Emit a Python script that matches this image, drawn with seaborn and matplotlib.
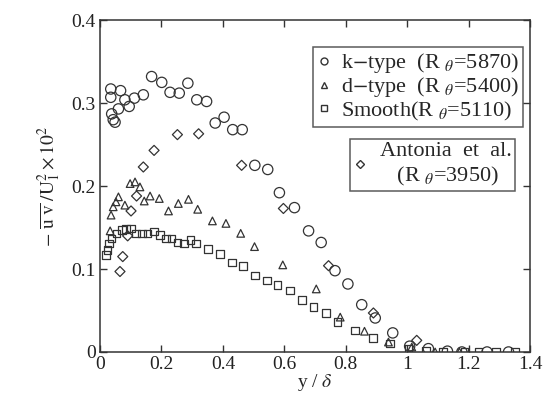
import pandas as pd
import matplotlib.pyplot as plt
import seaborn as sns
import numpy as np
from matplotlib.lines import Line2D

# data
k_x = [0.035, 0.035, 0.067, 0.081, 0.038, 0.043, 0.049, 0.060, 0.095, 0.112, 0.141, 0.168,
       0.201, 0.228, 0.258, 0.286, 0.315, 0.347, 0.375, 0.404, 0.432, 0.463, 0.504, 0.546,
       0.584, 0.633, 0.679, 0.720, 0.765, 0.807, 0.852, 0.896, 0.953, 1.008, 1.069, 1.131,
       1.178, 1.260, 1.330]
k_y = [0.317, 0.307, 0.315, 0.304, 0.287, 0.280, 0.277, 0.293, 0.296, 0.306, 0.310, 0.332,
       0.325, 0.313, 0.312, 0.324, 0.304, 0.302, 0.276, 0.283, 0.268, 0.268, 0.225, 0.220,
       0.192, 0.174, 0.146, 0.132, 0.098, 0.082, 0.057, 0.041, 0.023, 0.007, 0.004, 0.001,
       0.000, 0.000, 0.000]

d_x = [0.033, 0.036, 0.043, 0.052, 0.060, 0.081, 0.098, 0.114, 0.130, 0.144, 0.163, 0.193,
       0.223, 0.255, 0.288, 0.318, 0.366, 0.410, 0.458, 0.503, 0.595, 0.704, 0.782, 0.861,
       0.939, 1.015, 1.091, 1.170]
d_y = [0.146, 0.165, 0.175, 0.181, 0.187, 0.177, 0.203, 0.205, 0.199, 0.182, 0.188, 0.185,
       0.170, 0.179, 0.184, 0.172, 0.158, 0.155, 0.143, 0.127, 0.105, 0.076, 0.042, 0.025,
       0.012, 0.006, 0.000, 0.000]

s_x = [0.020, 0.024, 0.030, 0.038, 0.054, 0.071, 0.084, 0.100, 0.117, 0.136, 0.155, 0.176,
       0.195, 0.215, 0.233, 0.252, 0.274, 0.295, 0.313, 0.351, 0.391, 0.429, 0.465, 0.505,
       0.543, 0.578, 0.619, 0.657, 0.695, 0.735, 0.773, 0.831, 0.888, 0.945, 1.004, 1.061,
       1.116, 1.186, 1.232, 1.290, 1.350]
s_y = [0.117, 0.123, 0.131, 0.137, 0.143, 0.147, 0.148, 0.149, 0.143, 0.143, 0.143, 0.145,
       0.141, 0.137, 0.137, 0.132, 0.131, 0.135, 0.131, 0.124, 0.118, 0.108, 0.104, 0.092,
       0.086, 0.081, 0.074, 0.063, 0.054, 0.047, 0.036, 0.026, 0.017, 0.010, 0.004, 0.001,
       0.000, 0.000, 0.000, 0.000, 0.000]

a_x = [0.065, 0.074, 0.090, 0.101, 0.119, 0.141, 0.176, 0.252, 0.321, 0.461, 0.597, 0.744,
       0.890, 1.031]
a_y = [0.097, 0.115, 0.140, 0.170, 0.188, 0.223, 0.243, 0.262, 0.263, 0.225, 0.173, 0.104,
       0.047, 0.014]

sns.set_theme(style="ticks")
plt.rcParams['font.family'] = ['Liberation Serif', 'DejaVu Serif']
plt.rcParams['mathtext.fontset'] = 'stix'
plt.rcParams['font.size'] = 13

fig = plt.figure(figsize=(5.51, 4.03), dpi=100)
ax = fig.add_axes([0.1815, 0.1266, 0.7805, 0.8234])

series = [
    (k_x, k_y, 'o', 55),
    (d_x, d_y, '^', 30),
    (s_x, s_y, 's', 30),
    (a_x, a_y, 'D', 26),
]
for xs, ys, m, sz in series:
    df = pd.DataFrame({'x': xs, 'y': ys})
    sns.scatterplot(data=df, x='x', y='y', marker=m, s=sz, facecolors='none',
                    edgecolor='#333333', linewidth=0.9, ax=ax, zorder=3)

ax.set_xlim(0, 1.4)
ax.set_ylim(0, 0.4)
ax.set_xticks([0, 0.2, 0.4, 0.6, 0.8, 1.0, 1.2, 1.4])
ax.set_xticklabels(['0', '0.2', '0.4', '0.6', '0.8', '1', '1.2', '1.4'])
ax.set_yticks([0, 0.1, 0.2, 0.3, 0.4])
ax.set_yticklabels(['0', '0.1', '0.2', '0.3', '0.4'])
ax.tick_params(direction='in', top=True, right=True, length=5, width=1,
               labelsize=14, color='#333333', labelcolor='#222222', pad=3)
for sp in ax.spines.values():
    sp.set_linewidth(1.1)
    sp.set_color('#333333')

ax.set_xlabel(r'y / $\delta$', fontsize=14, labelpad=-1)
ax.set_ylabel(r'$-\ \overline{\mathrm{u\ v}}\ /\mathrm{U}_1^2\times10^2$', fontsize=14, labelpad=6)

h1 = [Line2D([], [], ls='', marker='o', ms=5, mfc='none', mec='#333333'),
      Line2D([], [], ls='', marker='^', ms=4.5, mfc='none', mec='#333333'),
      Line2D([], [], ls='', marker='s', ms=4, mfc='none', mec='#333333')]
l1 = [r'k$-$type  (R $_{\theta}$=5870)',
      r'd$-$type  (R $_{\theta}$=5400)',
      r'Smooth(R $_{\theta}$=5110)']
leg1 = ax.legend(h1, l1, loc='upper right', bbox_to_anchor=(0.984, 0.919), fontsize=16,
                 frameon=True, fancybox=False, edgecolor='#333333', handlelength=0.6,
                 handletextpad=0.45, borderpad=0.2, labelspacing=0.0, borderaxespad=0)
leg1.get_frame().set_linewidth(1.1)
ax.add_artist(leg1)

h2 = [Line2D([], [], ls='', marker='D', ms=4, mfc='none', mec='#333333')]
leg2 = ax.legend(h2, [r'Antonia  et  al.' + '\n' + r'   (R $_{\theta}$=3950)'], loc='upper right',
                 bbox_to_anchor=(0.965, 0.642), fontsize=16, frameon=True, fancybox=False,
                 edgecolor='#333333', handlelength=0.6, handletextpad=0.6, borderpad=0.15,
                 labelspacing=0.0, borderaxespad=0)
leg2.get_frame().set_linewidth(1.1)

plt.savefig('out.png', dpi=100)
